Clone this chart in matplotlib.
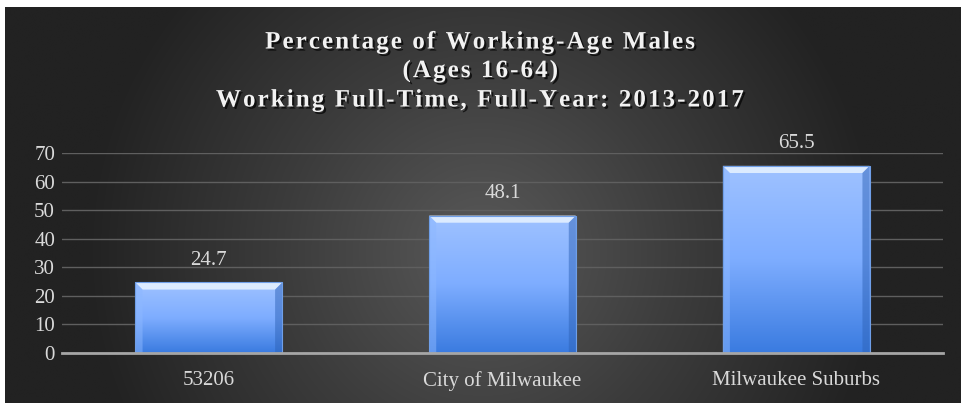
import numpy as np
import matplotlib
matplotlib.use("Agg")
import matplotlib.pyplot as plt
import matplotlib.patheffects as pe
from matplotlib.colors import LinearSegmentedColormap

# Données
categories = ["53206", "City of Milwaukee", "Milwaukee Suburbs"]
values = [24.7, 48.1, 65.5]
yticks = [0, 10, 20, 30, 40, 50, 60, 70]
title_lines = ["Percentage of Working-Age Males",
               "(Ages 16-64)",
               "Working Full-Time, Full-Year: 2013-2017"]

plt.rcParams['font.family'] = ['Liberation Serif', 'DejaVu Serif']

W, H = 961, 403
fig = plt.figure(figsize=(W/100, H/100), dpi=100)
fig.patch.set_facecolor("white")

# Fond dégradé radial (plus clair au centre)
bg = fig.add_axes([5/W, 0, 1 - 5/W, 1 - 7/H])
bg.set_axis_off()
yy, xx = np.mgrid[0:1:400j, 0:1:960j]
r = np.sqrt(((xx - 0.5) * 2.4) ** 2 + ((yy - 0.62) * 1.0) ** 2)
r = np.clip(r, 0, 1)
bgcmap = LinearSegmentedColormap.from_list("bg", ["#595959", "#3c3c3c", "#222222"])
bg.imshow(r, cmap=bgcmap, aspect="auto", extent=[0, 1, 0, 1], vmin=0, vmax=1)
bg.set_xlim(0, 1)
bg.set_ylim(0, 1)

# Titre (espacement des lettres)
def spaced(s):
    return "\u200a".join(s)

shadow = [pe.SimplePatchShadow(offset=(1.5, -1.5), shadow_rgbFace="black", alpha=0.7), pe.Normal()]
for i, line in enumerate(title_lines):
    fig.text(0.5, 1 - (42 + 29 * i) / H, spaced(line), ha="center", va="center",
             color="#f2f2f2", fontsize=18, fontweight="bold", path_effects=shadow)

# Graphique
ax = fig.add_axes([62/W, 1 - 353/H, (943 - 62)/W, 200/H])
ax.set_facecolor("none")
x = np.arange(len(categories))
bars = ax.bar(x, values, width=0.5, color="none", edgecolor="none", zorder=3)

ax.set_xlim(-0.5, len(categories) - 0.5)
ax.set_ylim(0, 70)
ax.set_yticks(yticks)
ax.set_xticks(x)
ax.set_xticklabels(categories)
ax.tick_params(axis="both", length=0, colors="#d9d9d9", labelsize=15)
ax.tick_params(axis="x", pad=13)
ax.tick_params(axis="y", pad=5)
ax.yaxis.grid(True, color="#5f5f5f", lw=1)
ax.set_axisbelow(True)
for side in ["top", "right", "left"]:
    ax.spines[side].set_visible(False)
ax.spines["bottom"].set_color("#a6a6a6")
ax.spines["bottom"].set_linewidth(2)
ax.spines["bottom"].set_zorder(5)

# Barres en dégradé avec biseau
barcmap = LinearSegmentedColormap.from_list("bar", ["#3a7be0", "#7eadff", "#9fc2ff"])
grad = np.linspace(0, 1, 256).reshape(-1, 1)
for b, v in zip(bars, values):
    x0, w = b.get_x(), b.get_width()
    im = ax.imshow(grad, cmap=barcmap, aspect="auto", origin="lower",
                   extent=[x0, x0 + w, 0, v], zorder=3)
    im.set_clip_path(b)
    # biseau supérieur
    bev = 2.5
    dx = bev / 70 * 200 / (881 / 3)
    ax.fill([x0, x0 + w, x0 + w - dx, x0 + dx], [v, v, v - bev, v - bev],
            color="#dcebff", zorder=4, lw=0)
    ax.fill([x0, x0 + dx, x0 + dx, x0], [v, v - bev, 0, 0], color="#8db8ff", alpha=0.5, zorder=4, lw=0)
    ax.fill([x0 + w, x0 + w - dx, x0 + w - dx, x0 + w], [v, v - bev, 0, 0], color="#2e63b8", alpha=0.5, zorder=4, lw=0)
    ax.plot([x0, x0 + w, x0 + w, x0, x0], [0, 0, v, v, 0], color="#6f9fe8", lw=0.8, zorder=4)
    ax.text(b.get_x() + w / 2, v + 7.7, f"{v}", ha="center", va="center",
            color="#d9d9d9", fontsize=15)

fig.savefig("out.png", dpi=100, facecolor=fig.get_facecolor())
